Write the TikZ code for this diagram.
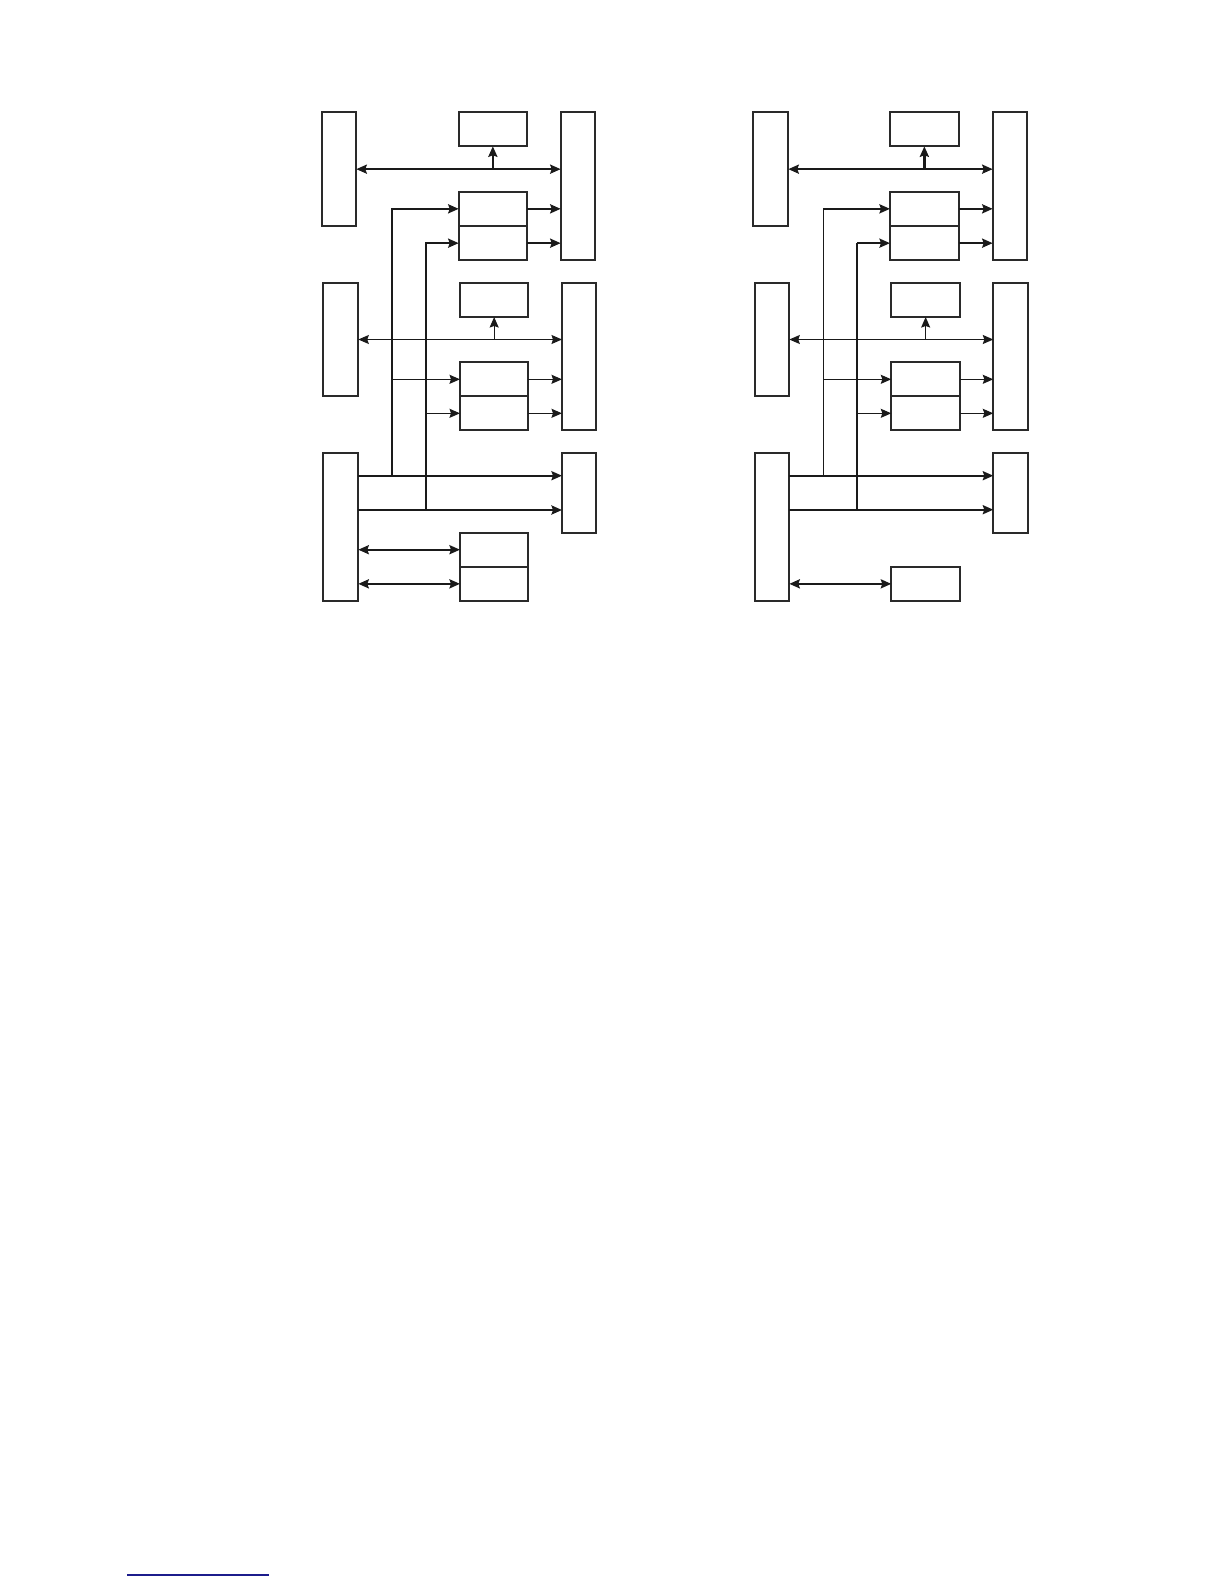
\documentclass[tikz,border=0pt]{standalone}
\usetikzlibrary{arrows.meta}
\definecolor{ink}{HTML}{1A1A1A}
\definecolor{boxink}{HTML}{2A2A2A}
\definecolor{rule}{HTML}{1C1C8C}
\tikzset{
  box/.style={draw=boxink, line width=1.7pt, inner sep=0pt, outer sep=0pt, anchor=north west, fill=white},
  thickln/.style={draw=ink, line width=2.4pt, line join=miter},
  thinln/.style={draw=ink, line width=1.2pt},
  tip/.style={-{Stealth[length=10.5pt,width=9pt,inset=1.5pt]}},
  dtip/.style={{Stealth[length=10.5pt,width=9pt,inset=1.5pt]}-{Stealth[length=10.5pt,width=9pt,inset=1.5pt]}},
}
\begin{document}
\begin{tikzpicture}[x=1pt,y=-1pt]
\fill[white] (0,0) rectangle (1224,1584);
\useasboundingbox (0,0) rectangle (1224,1584);

% ---------------- left diagram ----------------
\node[box, minimum width=34pt, minimum height=113.7pt] (A1) at (322.3,112.3) {};
\node[box, minimum width=68.3pt, minimum height=34pt] (B1) at (458.7,112.3) {};
\node[box, minimum width=34pt, minimum height=148pt] (C1) at (560.7,112.3) {};
\node[box, minimum width=68.3pt, minimum height=34.3pt] (D1) at (458.7,191.7) {};
\node[box, minimum width=68.3pt, minimum height=34.3pt] (E1) at (458.7,226) {};

\node[box, minimum width=35pt, minimum height=113.6pt] (A2) at (323.3,282.7) {};
\node[box, minimum width=68.3pt, minimum height=34.3pt] (B2) at (460,282.7) {};
\node[box, minimum width=34.3pt, minimum height=147.6pt] (C2) at (562,282.7) {};
\node[box, minimum width=68.3pt, minimum height=34pt] (D2) at (460,362.3) {};
\node[box, minimum width=68.3pt, minimum height=34pt] (E2) at (460,396.3) {};

\node[box, minimum width=35pt, minimum height=147.7pt] (A3) at (323.3,453.3) {};
\node[box, minimum width=34.3pt, minimum height=79.4pt] (C3) at (562,453.3) {};
\node[box, minimum width=68.3pt, minimum height=34pt] (F3) at (460,532.7) {};
\node[box, minimum width=68.3pt, minimum height=34.3pt] (G3) at (460,566.7) {};

\coordinate (jL1) at (391.7,475.7);
\coordinate (jL2) at (426,510);

\draw[thickln, dtip] (A1.east) -- (A1.east -| C1.west);
\draw[thickln, tip] (B1.south |- A1.east) -- (B1.south);
\draw[thickln, tip] (D1.east) -- (D1.east -| C1.west);
\draw[thickln, tip] (E1.east) -- (E1.east -| C1.west);

\draw[thinln, dtip] (A2.east) -- (A2.east -| C2.west);
\draw[thinln, tip] (B2.south |- A2.east) -- (B2.south);
\draw[thinln, tip] (D2.east) -- (D2.east -| C2.west);
\draw[thinln, tip] (E2.east) -- (E2.east -| C2.west);
\draw[thinln, tip] (jL1 |- D2.west) -- (D2.west);
\draw[thinln, tip] (jL2 |- E2.west) -- (E2.west);

\draw[thickln, tip] (A3.east |- jL1) -- (C3.west |- jL1);
\draw[thickln, tip] (A3.east |- jL2) -- (C3.west |- jL2);
\draw[thickln, tip] (jL1) -- (jL1 |- D1.west) -- (D1.west);
\draw[thickln, tip] (jL2) -- (jL2 |- E1.west) -- (E1.west);
\draw[thickln, dtip] (A3.east |- F3.west) -- (F3.west);
\draw[thickln, dtip] (A3.east |- G3.west) -- (G3.west);

% ---------------- right diagram ----------------
\node[box, minimum width=35pt, minimum height=113.7pt] (RA1) at (753.3,112.3) {};
\node[box, minimum width=68.7pt, minimum height=34pt] (RB1) at (890,112.3) {};
\node[box, minimum width=34pt, minimum height=148pt] (RC1) at (992.7,112.3) {};
\node[box, minimum width=68.7pt, minimum height=34.3pt] (RD1) at (890,191.7) {};
\node[box, minimum width=68.7pt, minimum height=34.3pt] (RE1) at (890,226) {};

\node[box, minimum width=34.3pt, minimum height=113.6pt] (RA2) at (755,282.7) {};
\node[box, minimum width=68.7pt, minimum height=34.3pt] (RB2) at (891.3,282.7) {};
\node[box, minimum width=34.4pt, minimum height=147.6pt] (RC2) at (993.3,282.7) {};
\node[box, minimum width=68.7pt, minimum height=34pt] (RD2) at (891.3,362.3) {};
\node[box, minimum width=68.7pt, minimum height=34pt] (RE2) at (891.3,396.3) {};

\node[box, minimum width=34.3pt, minimum height=147.7pt] (RA3) at (755,453.3) {};
\node[box, minimum width=34.4pt, minimum height=79.4pt] (RC3) at (993.3,453.3) {};
\node[box, minimum width=68.7pt, minimum height=34.3pt] (RH3) at (891.3,566.7) {};

\coordinate (jR1) at (823.3,475.7);
\coordinate (jR2) at (857,509.7);

\draw[thickln, dtip] (RA1.east) -- (RA1.east -| RC1.west);
\draw[thickln, tip] (RB1.south |- RA1.east) -- (RB1.south);
\draw[thickln, tip] (RD1.east) -- (RD1.east -| RC1.west);
\draw[thickln, tip] (RE1.east) -- (RE1.east -| RC1.west);

\draw[thinln, dtip] (RA2.east) -- (RA2.east -| RC2.west);
\draw[thinln, tip] (RB2.south |- RA2.east) -- (RB2.south);
\draw[thinln, tip] (RD2.east) -- (RD2.east -| RC2.west);
\draw[thinln, tip] (RE2.east) -- (RE2.east -| RC2.west);
\draw[thinln, tip] (jR1 |- RD2.west) -- (RD2.west);
\draw[thinln, tip] (jR2 |- RE2.west) -- (RE2.west);

\draw[thinln] (jR1) -- (jR1 |- RD1.west);
\draw[thinln] (jR2) -- (jR2 |- RE1.west);
\draw[thickln, tip] (jR1 |- RD1.west) -- (RD1.west);
\draw[thickln, tip] (jR2 |- RE1.west) -- (RE1.west);

\draw[thickln, tip] (RA3.east |- jR1) -- (RC3.west |- jR1);
\draw[thickln, tip] (RA3.east |- jR2) -- (RC3.west |- jR2);
\draw[thickln, dtip] (RA3.east |- RH3.west) -- (RH3.west);

% ---------------- footnote rule ----------------
\coordinate (fnL) at (127,1575);
\coordinate (fnR) at (269,1575);
\draw[draw=rule, line width=1.3pt] (fnL) -- (fnR);
\end{tikzpicture}
\end{document}
